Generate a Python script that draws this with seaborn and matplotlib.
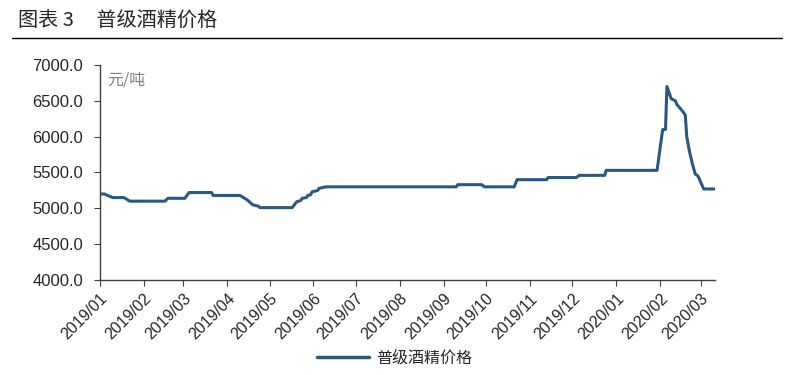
import pandas as pd
import seaborn as sns
import matplotlib.pyplot as plt
import matplotlib.dates as mdates
from matplotlib.lines import Line2D
from matplotlib.ticker import FormatStrFormatter

# breakpoints of the price series (yuan per ton)
dates = [
    "2019-01-02", "2019-01-04", "2019-01-10", "2019-01-18", "2019-01-22",
    "2019-02-16", "2019-02-18", "2019-03-02", "2019-03-05", "2019-03-21",
    "2019-03-22", "2019-04-10", "2019-04-15", "2019-04-19", "2019-04-23",
    "2019-04-24", "2019-05-17", "2019-05-20", "2019-05-23", "2019-05-24",
    "2019-05-27", "2019-05-28", "2019-05-30", "2019-05-31", "2019-06-04",
    "2019-06-05", "2019-06-10", "2019-09-10", "2019-09-11", "2019-09-28",
    "2019-09-30", "2019-10-21", "2019-10-23", "2019-11-13", "2019-11-14",
    "2019-12-04", "2019-12-06", "2019-12-24", "2019-12-25", "2020-01-30",
    "2020-02-03", "2020-02-05", "2020-02-06", "2020-02-09", "2020-02-12",
    "2020-02-13", "2020-02-16", "2020-02-18", "2020-02-19", "2020-02-20",
    "2020-02-22", "2020-02-24", "2020-02-26", "2020-02-28", "2020-03-03",
    "2020-03-11",
]
prices = [
    5200, 5200, 5150, 5150, 5100,
    5100, 5140, 5140, 5220, 5220,
    5180, 5180, 5120, 5050, 5030,
    5010, 5010, 5090, 5110, 5140,
    5150, 5180, 5190, 5230, 5250,
    5280, 5300, 5300, 5330, 5330,
    5300, 5300, 5400, 5400, 5430,
    5430, 5460, 5460, 5530, 5530,
    6100, 6100, 6700, 6530, 6500,
    6450, 6380, 6330, 6300, 6000,
    5790, 5620, 5480, 5450, 5270,
    5270,
]
series_name = "普级酒精价格"
line_color = "#2B5882"

df = pd.DataFrame({"date": pd.to_datetime(dates), "price": prices})

sns.set_style("ticks")
plt.rcParams["font.family"] = ["Liberation Sans", "Noto Sans CJK SC", "DejaVu Sans"]

fig = plt.figure(figsize=(8.12, 3.75), dpi=100)
ax = fig.add_axes([100 / 812, 1 - 280 / 375, 615 / 812, 215 / 375])

sns.lineplot(data=df, x="date", y="price", color=line_color, linewidth=2.2,
             label=series_name, ax=ax, legend=False)

ax.set_xlim(pd.Timestamp("2019-01-01"), pd.Timestamp("2020-03-11"))
ax.set_ylim(4000, 7000)
ax.set_yticks(range(4000, 7001, 500))
ax.yaxis.set_major_formatter(FormatStrFormatter("%.1f"))
ax.xaxis.set_major_locator(mdates.MonthLocator())
ax.xaxis.set_major_formatter(mdates.DateFormatter("%Y/%m"))
ax.set_xlabel("")
ax.set_ylabel("")
for lab in ax.get_xticklabels():
    lab.set_rotation(45)
    lab.set_ha("right")
    lab.set_rotation_mode("anchor")
ax.tick_params(axis="x", labelsize=11.5, length=4, color="#404040", pad=4)
ax.tick_params(axis="y", labelsize=12, length=4, color="#404040", pad=8)
for side in ["top", "right"]:
    ax.spines[side].set_visible(False)
for side in ["left", "bottom"]:
    ax.spines[side].set_color("#404040")
    ax.spines[side].set_linewidth(1.0)

ax.text(0.012, 0.93, "元/吨", transform=ax.transAxes, fontsize=11.5,
        color="#7F7F7F", family=["Noto Sans CJK SC", "DejaVu Sans"], va="center")

# title and rule
fig.text(18 / 812, 1 - 21 / 375, "图表 3     普级酒精价格", fontsize=14.5,
         family=["Noto Sans CJK SC", "DejaVu Sans"], va="center", ha="left")
fig.add_artist(Line2D([12 / 812, 782 / 812], [1 - 38 / 375, 1 - 38 / 375],
                     color="black", linewidth=1.0, transform=fig.transFigure))

# legend
handles = [Line2D([], [], color=line_color, linewidth=2.5)]
fig.legend(handles, [series_name], loc="center", bbox_to_anchor=(395 / 812, 1 - 358 / 375),
           frameon=False, prop={"family": "Noto Sans CJK SC", "size": 11.5},
           handlelength=3.2, handletextpad=0.5)

fig.savefig("out.png", dpi=100)
